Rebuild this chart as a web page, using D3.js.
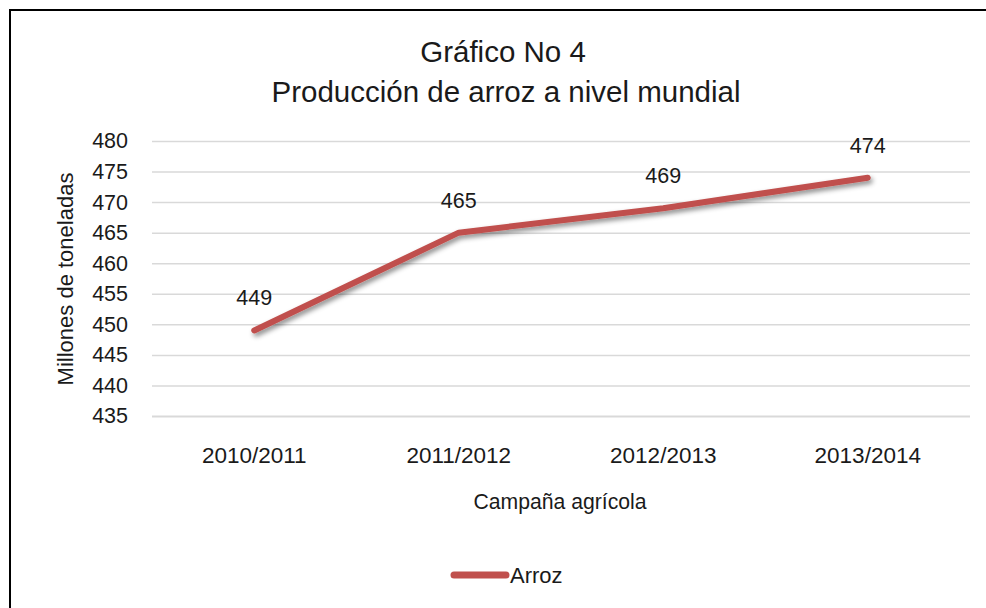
<!DOCTYPE html>
<html>
<head>
<meta charset="utf-8">
<script src="https://cdn.jsdelivr.net/npm/d3@7"></script>
<style>
  body { margin: 0; background: #fff; }
  text { font-family: "Liberation Sans Narrow", "Arial Narrow", "Liberation Sans", sans-serif; fill: #1a1a1a; }
</style>
</head>
<body>
<svg width="986" height="608"></svg>
<script>
// chart data
const campaigns = ["2010/2011", "2011/2012", "2012/2013", "2013/2014"];
const arroz = [449, 465, 469, 474];
const yTicks = [435, 440, 445, 450, 455, 460, 465, 470, 475, 480];

const svg = d3.select("svg");

const x = d3.scaleBand()
    .domain(campaigns)
    .range([152, 970]);

const y = d3.scaleLinear()
    .domain([435, 480])
    .range([416, 141]);

// outer frame
svg.append("rect")
    .attr("x", 10).attr("y", 10)
    .attr("width", 990).attr("height", 610)
    .attr("fill", "none")
    .attr("stroke", "#000")
    .attr("stroke-width", 2);

// shadow filter for the line
const defs = svg.append("defs");
const f = defs.append("filter").attr("id", "shadow")
    .attr("x", "-10%").attr("y", "-30%").attr("width", "120%").attr("height", "160%");
f.append("feDropShadow")
    .attr("dx", 2).attr("dy", 3)
    .attr("stdDeviation", 2.5)
    .attr("flood-color", "#000")
    .attr("flood-opacity", 0.45);

// title
svg.append("text")
    .attr("x", 503).attr("y", 62)
    .attr("text-anchor", "middle")
    .style("font-size", "29.5px")
    .text("Gráfico No 4");
svg.append("text")
    .attr("x", 506).attr("y", 102)
    .attr("text-anchor", "middle")
    .style("font-size", "29.5px")
    .text("Producción de arroz a nivel mundial");

// gridlines + y labels
const yAxis = d3.axisLeft(y)
    .tickValues(yTicks)
    .tickSize(-(970 - 152))
    .tickPadding(24);

const gy = svg.append("g")
    .attr("transform", "translate(152,0)")
    .call(yAxis);
gy.select(".domain").remove();
gy.selectAll(".tick line")
    .attr("stroke", "#d9d9d9")
    .attr("stroke-width", 1.5);
gy.selectAll(".tick line").filter(d => d === 435)
    .attr("stroke-width", 2);
gy.selectAll(".tick text")
    .style("font-size", "21.5px")
    .attr("fill", "#1a1a1a");

// x labels
const xAxis = d3.axisBottom(x).tickSize(0).tickPadding(31);
const gx = svg.append("g")
    .attr("transform", "translate(0,416)")
    .call(xAxis);
gx.select(".domain").remove();
gx.selectAll(".tick text")
    .style("font-size", "22.5px")
    .attr("fill", "#1a1a1a");

// axis titles
svg.append("text")
    .attr("transform", "translate(73,279) rotate(-90)")
    .attr("text-anchor", "middle")
    .style("font-size", "22px")
    .text("Millones de toneladas");

svg.append("text")
    .attr("x", 560).attr("y", 509)
    .attr("text-anchor", "middle")
    .style("font-size", "21.2px")
    .text("Campaña agrícola");

// the line
const line = d3.line()
    .x((d, i) => x(campaigns[i]) + x.bandwidth() / 2)
    .y(d => y(d));

svg.append("path")
    .datum(arroz)
    .attr("d", line)
    .attr("fill", "none")
    .attr("stroke", "#c0504d")
    .attr("stroke-width", 6)
    .attr("stroke-linecap", "round")
    .attr("stroke-linejoin", "round")
    .attr("filter", "url(#shadow)");

// data labels
svg.append("g")
    .selectAll("text")
    .data(arroz)
    .join("text")
    .attr("x", (d, i) => x(campaigns[i]) + x.bandwidth() / 2)
    .attr("y", d => y(d) - 25)
    .attr("text-anchor", "middle")
    .style("font-size", "21.5px")
    .text(d => d);

// legend
svg.append("line")
    .attr("x1", 454).attr("x2", 506)
    .attr("y1", 575).attr("y2", 575)
    .attr("stroke", "#c0504d")
    .attr("stroke-width", 7)
    .attr("stroke-linecap", "round");
svg.append("text")
    .attr("x", 510).attr("y", 583)
    .style("font-size", "22px")
    .text("Arroz");
</script>
</body>
</html>
